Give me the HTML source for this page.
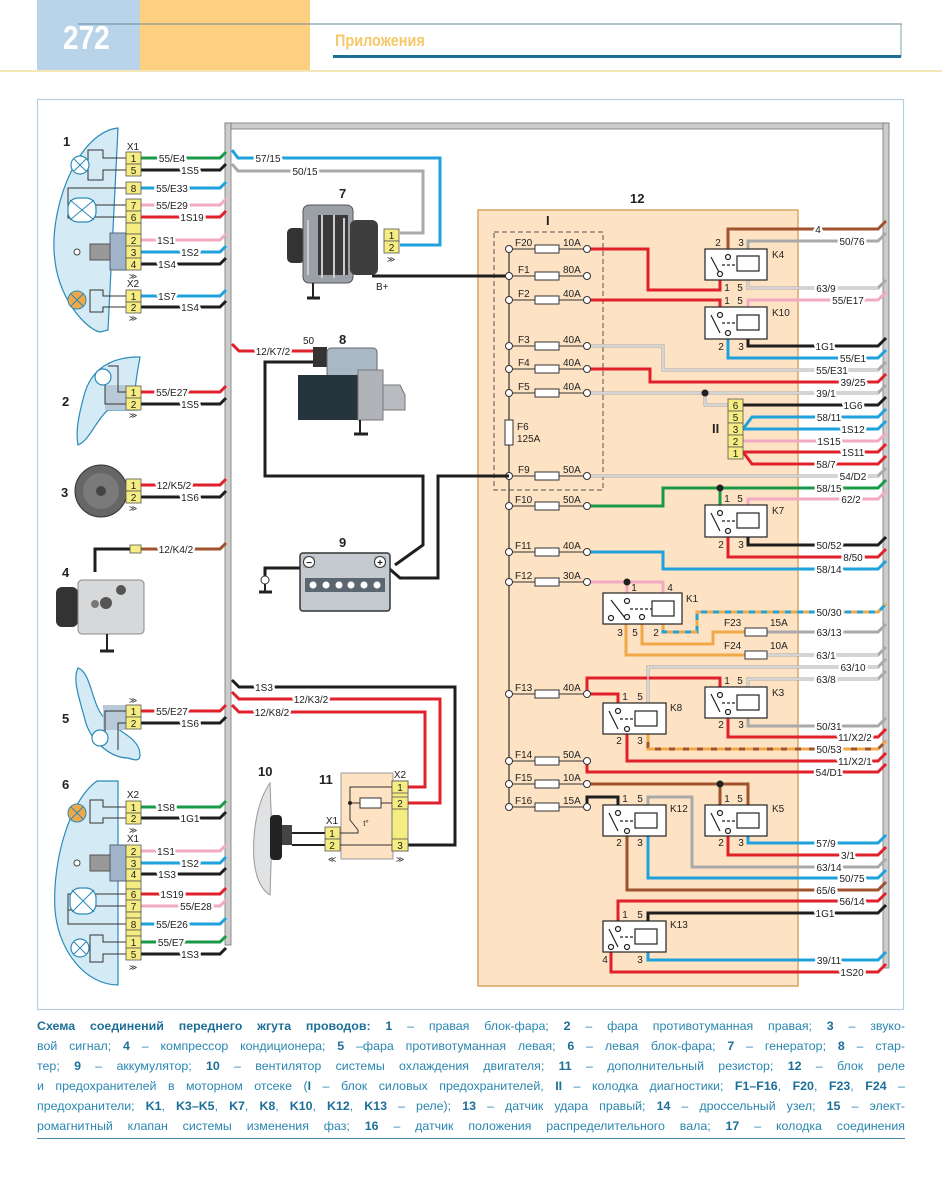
<!DOCTYPE html>
<html><head><meta charset="utf-8">
<style>
html,body{margin:0;padding:0;background:#fff;}
body{width:942px;height:1200px;position:relative;overflow:hidden;font-family:"Liberation Sans","DejaVu Sans",sans-serif;}
svg{position:absolute;left:0;top:0;}
.cap{position:absolute;left:37px;width:868px;font-size:12.4px;color:#2a86b0;line-height:20px;text-align:justify;text-align-last:justify;white-space:nowrap;font-family:"Liberation Sans","DejaVu Sans",sans-serif;}
.cap b{color:#1d6f98;}
</style></head><body>
<svg width="942" height="1200" viewBox="0 0 942 1200" font-family="Liberation Sans, DejaVu Sans, sans-serif">
<defs>
<style>
.w{fill:none;stroke-width:3;stroke-linejoin:miter}
.r{stroke:#e0202a}.b{stroke:#1ea2dc}.g{stroke:#1a9a48}.p{stroke:#f2a9c2}.k{stroke:#1e1e1e}.y{stroke:#a9a9a9}.n{stroke:#a0522d}.o{stroke:#f0a848}
.t{font-size:10px;fill:#222;paint-order:stroke;stroke:#fff;stroke-width:5px;stroke-linejoin:round}
.tb{font-size:10px;fill:#222}
.pn{font-size:10px;fill:#222;text-anchor:middle}
.num{font-size:13px;font-weight:bold;fill:#222}
.thin{fill:none;stroke:#333;stroke-width:1}
.cell{fill:#f6ed82;stroke:#555;stroke-width:0.8}
</style>
</defs>

<!-- header -->
<rect x="37" y="0" width="103" height="70" fill="#b9d3e8"/>
<rect x="140" y="0" width="170" height="70" fill="#fdd080"/>
<line x1="78" y1="24" x2="902" y2="24" stroke="#6a8a9a" stroke-width="1"/>
<line x1="901" y1="24" x2="901" y2="57" stroke="#7aa" stroke-width="1"/>
<text x="63" y="49" font-size="33" font-weight="bold" fill="#fff" transform="translate(63 0) scale(0.85 1) translate(-63 0)">272</text>
<text x="335" y="46" font-size="17" font-weight="bold" fill="#f6c86a" transform="translate(335 0) scale(0.85 1) translate(-335 0)">Приложения</text>
<rect x="333" y="55" width="568" height="3" fill="#1c6e92"/>
<rect x="0" y="70" width="942" height="2" fill="#f3e7b8"/>

<!-- frame -->
<rect x="37.5" y="99.5" width="866" height="910" fill="none" stroke="#b7cfe0" stroke-width="1.2"/>

<!-- block 12 -->
<rect x="478" y="210" width="320" height="776" fill="#fde3c4" stroke="#d9a466" stroke-width="1.5"/>
<text x="630" y="203" class="num">12</text>
<rect x="494" y="232" width="109" height="258" fill="none" stroke="#555" stroke-width="1" stroke-dasharray="5,3"/>
<text x="546" y="225" class="num" font-size="12">I</text>

<!-- trunk -->
<rect x="225" y="123" width="664" height="6" fill="#ccc" stroke="#777" stroke-width="0.8"/>
<rect x="225" y="123" width="6" height="822" fill="#ccc" stroke="#777" stroke-width="0.8"/>
<rect x="883" y="123" width="6" height="845" fill="#ccc" stroke="#777" stroke-width="0.8"/>

<!-- fuse bus -->
<line x1="509" y1="249" x2="509" y2="807" stroke="#333" stroke-width="1.2"/>
<rect x="505" y="420" width="8" height="25" fill="#fff" stroke="#333"/>
<text x="517" y="430" class="tb">F6</text><text x="517" y="442" class="tb">125A</text>

<!-- wires inside block 12 (right side) -->
<g class="w">
<path class="n" d="M728 249V229H878l8-8"/>
<path class="y" d="M748 249V241H878l8-8"/>
<path class="r" d="M587 249H648V290H720V280"/>
<path class="y" d="M748 280V288H878l8-8"/>
<path class="p" d="M748 307V300H878l8-8"/>
<path class="r" d="M587 300H720V307"/>
<path class="k" d="M748 339V346H878l8-8"/>
<path class="b" d="M728 339V358H878l8-8"/>
<path class="y" d="M587 346H663V370H878l8-8"/>
<path class="r" d="M587 369H650V382H878l8-8"/>
<path class="y" d="M587 393H878l8-8"/>
<path class="y" d="M705 393V405H728"/>
<path class="k" d="M743 405H878l8-8"/>
<path class="b" d="M743 429L752 417H878l8-8"/>
<path class="b" d="M743 429H878l8-8"/>
<path class="p" d="M743 441H878l8-8"/>
<path class="r" d="M743 452H878l8-8"/>
<path class="r" d="M743 452L752 464H878l8-8"/>
<path class="k" d="M509 276H372"/>
<path class="y" d="M587 476H878l8-8"/>
<path class="g" d="M587 506H663V488H878l8-8"/>
<path class="g" d="M720 488V505"/>
<path class="p" d="M748 505V499H878l8-8"/>
<path class="k" d="M748 537V545H878l8-8"/>
<path class="r" d="M728 537V557H878l8-8"/>
<path class="b" d="M587 552H663V569H878l8-8"/>
<path class="p" d="M587 582H663V593"/>
<path class="p" d="M627 582V593"/>
<path class="b" d="M663 624V632H697V612H878l8-8"/>
<path class="o" d="M663 624V632H697V612H878l8-8" stroke-dasharray="6,6"/>
<path class="o" d="M642 624V644H713V632H745"/>
<path class="y" d="M767 632H878l8-8"/>
<path class="o" d="M626 624V655H745"/>
<path class="y" d="M767 655H878l8-8"/>
<path class="y" d="M648 703V667H878l8-8"/>
<path class="y" d="M748 687V679H878l8-8"/>
<path class="r" d="M587 694V678H720V687"/>
<path class="r" d="M587 694H618V703"/>
<path class="y" d="M748 718V726H878l8-8"/>
<path class="r" d="M728 718V737H878l8-8"/>
<path class="n" d="M648 734V749H878l8-8"/>
<path class="o" d="M648 734V749H878l8-8" stroke-dasharray="8,6"/>
<path class="r" d="M627 734V761H878l8-8"/>
<path class="r" d="M587 761V772H878l8-8"/>
<path class="n" d="M587 784H748V805"/>
<path class="n" d="M720 784V805"/>
<path class="k" d="M587 807V797H618V805"/>
<path class="y" d="M648 805V797H692V867H878l8-8"/>
<path class="b" d="M748 836V843H878l8-8"/>
<path class="r" d="M728 836V855H878l8-8"/>
<path class="b" d="M648 836V878H878l8-8"/>
<path class="n" d="M627 836V890H878l8-8"/>
<path class="r" d="M618 921V901H878l8-8"/>
<path class="k" d="M648 921V913H878l8-8"/>
<path class="b" d="M648 952V960H878l8-8"/>
<path class="r" d="M611 952V972H878l8-8"/>
</g>
<g fill="#fff" stroke="#fff" stroke-width="1">
<path d="M748 280V288H878M587 346H663V370H878M587 393H878M705 393V405H728M587 476H878M767 655H878M648 703V667H878M748 687V679H878" fill="none"/>
</g>
<g fill="#222"><circle cx="705" cy="393" r="3.5"/><circle cx="720" cy="488" r="3.5"/><circle cx="627" cy="582" r="3.5"/><circle cx="720" cy="784" r="3.5"/></g>

<!-- fuses -->
<g stroke="#333" stroke-width="1" fill="#fff">
<path d="M509 249H587M509 276H587M509 300H587M509 346H587M509 369H587M509 393H587M509 476H587M509 506H587M509 552H587M509 582H587M509 694H587M509 761H587M509 784H587M509 807H587" fill="none"/>
<rect x="535" y="245" width="24" height="8"/><rect x="535" y="272" width="24" height="8"/><rect x="535" y="296" width="24" height="8"/>
<rect x="535" y="342" width="24" height="8"/><rect x="535" y="365" width="24" height="8"/><rect x="535" y="389" width="24" height="8"/>
<rect x="535" y="472" width="24" height="8"/><rect x="535" y="502" width="24" height="8"/><rect x="535" y="548" width="24" height="8"/>
<rect x="535" y="578" width="24" height="8"/><rect x="535" y="690" width="24" height="8"/><rect x="535" y="757" width="24" height="8"/>
<rect x="535" y="780" width="24" height="8"/><rect x="535" y="803" width="24" height="8"/>
<rect x="745" y="628" width="22" height="8"/><rect x="745" y="651" width="22" height="8"/>
<circle cx="509" cy="249" r="3.5"/><circle cx="509" cy="276" r="3.5"/><circle cx="509" cy="300" r="3.5"/><circle cx="509" cy="346" r="3.5"/><circle cx="509" cy="369" r="3.5"/><circle cx="509" cy="393" r="3.5"/><circle cx="509" cy="476" r="3.5"/><circle cx="509" cy="506" r="3.5"/><circle cx="509" cy="552" r="3.5"/><circle cx="509" cy="582" r="3.5"/><circle cx="509" cy="694" r="3.5"/><circle cx="509" cy="761" r="3.5"/><circle cx="509" cy="784" r="3.5"/><circle cx="509" cy="807" r="3.5"/>
<circle cx="587" cy="249" r="3.5"/><circle cx="587" cy="276" r="3.5"/><circle cx="587" cy="300" r="3.5"/><circle cx="587" cy="346" r="3.5"/><circle cx="587" cy="369" r="3.5"/><circle cx="587" cy="393" r="3.5"/><circle cx="587" cy="476" r="3.5"/><circle cx="587" cy="506" r="3.5"/><circle cx="587" cy="552" r="3.5"/><circle cx="587" cy="582" r="3.5"/><circle cx="587" cy="694" r="3.5"/><circle cx="587" cy="761" r="3.5"/><circle cx="587" cy="784" r="3.5"/><circle cx="587" cy="807" r="3.5"/>
</g>
<g class="tb" font-size="9.5">
<text x="515" y="246">F20</text><text x="563" y="246">10A</text>
<text x="518" y="273">F1</text><text x="563" y="273">80A</text>
<text x="518" y="297">F2</text><text x="563" y="297">40A</text>
<text x="518" y="343">F3</text><text x="563" y="343">40A</text>
<text x="518" y="366">F4</text><text x="563" y="366">40A</text>
<text x="518" y="390">F5</text><text x="563" y="390">40A</text>
<text x="518" y="473">F9</text><text x="563" y="473">50A</text>
<text x="515" y="503">F10</text><text x="563" y="503">50A</text>
<text x="515" y="549">F11</text><text x="563" y="549">40A</text>
<text x="515" y="579">F12</text><text x="563" y="579">30A</text>
<text x="515" y="691">F13</text><text x="563" y="691">40A</text>
<text x="515" y="758">F14</text><text x="563" y="758">50A</text>
<text x="515" y="781">F15</text><text x="563" y="781">10A</text>
<text x="515" y="804">F16</text><text x="563" y="804">15A</text>
<text x="724" y="626">F23</text><text x="770" y="626">15A</text>
<text x="724" y="649">F24</text><text x="770" y="649">10A</text>
</g>

<!-- relays -->
<g id="rel">
<g stroke="#222" stroke-width="1.2" fill="#fff">
<rect x="705" y="249" width="62" height="31"/><rect x="705" y="307" width="62" height="32"/>
<rect x="705" y="505" width="62" height="32"/><rect x="603" y="593" width="79" height="31"/>
<rect x="705" y="687" width="62" height="31"/><rect x="603" y="703" width="63" height="31"/>
<rect x="603" y="805" width="63" height="31"/><rect x="705" y="805" width="62" height="31"/>
<rect x="603" y="921" width="63" height="31"/>
</g>
<g stroke="#222" stroke-width="1.2" fill="none">
<!-- coils -->
<rect x="737" y="256" width="22" height="15"/><rect x="737" y="315" width="22" height="15"/>
<rect x="737" y="513" width="22" height="15"/><rect x="652" y="601" width="22" height="15"/>
<rect x="737" y="695" width="22" height="15"/><rect x="635" y="711" width="22" height="15"/>
<rect x="635" y="813" width="22" height="15"/><rect x="737" y="813" width="22" height="15"/>
<rect x="635" y="929" width="22" height="15"/>
<!-- switches -->
<path d="M711 257L720 274M711 315L720 333M711 513L720 531M611 600L625 618M711 694L720 712M609 711L618 729M609 813L618 831M711 813L720 831M609 929L618 947"/>
<path d="M722 265H737M722 323H737M722 521H737M630 609H652M722 703H737M620 719H635M620 821H635M722 821H737M620 937H635" stroke-dasharray="3,2"/>
<circle cx="728" cy="257" r="2.5" fill="#fff"/><circle cx="720" cy="274" r="2.5" fill="#fff"/>
<circle cx="720" cy="315" r="2.5" fill="#fff"/><circle cx="728" cy="333" r="2.5" fill="#fff"/>
<circle cx="720" cy="513" r="2.5" fill="#fff"/><circle cx="728" cy="531" r="2.5" fill="#fff"/>
<circle cx="627" cy="601" r="2.5" fill="#fff"/><circle cx="611" cy="618" r="2.5" fill="#fff"/><circle cx="627" cy="617" r="2.5" fill="#fff"/><circle cx="642" cy="617" r="2.5" fill="#fff"/>
<circle cx="720" cy="695" r="2.5" fill="#fff"/><circle cx="728" cy="712" r="2.5" fill="#fff"/>
<circle cx="618" cy="711" r="2.5" fill="#fff"/><circle cx="627" cy="729" r="2.5" fill="#fff"/>
<circle cx="618" cy="813" r="2.5" fill="#fff"/><circle cx="627" cy="831" r="2.5" fill="#fff"/>
<circle cx="720" cy="813" r="2.5" fill="#fff"/><circle cx="728" cy="831" r="2.5" fill="#fff"/>
<circle cx="618" cy="929" r="2.5" fill="#fff"/><circle cx="611" cy="947" r="2.5" fill="#fff"/><circle cx="627" cy="947" r="2.5" fill="#fff"/>
</g>
<g class="tb" font-size="10.5">
<text x="772" y="258">K4</text><text x="772" y="316">K10</text><text x="772" y="514">K7</text><text x="686" y="602">K1</text>
<text x="772" y="696">K3</text><text x="670" y="711">K8</text><text x="670" y="812">K12</text><text x="772" y="812">K5</text><text x="670" y="928">K13</text>
</g>
<g class="pn">
<text x="718" y="246">2</text><text x="741" y="246">3</text><text x="727" y="291">1</text><text x="740" y="291">5</text>
<text x="727" y="304">1</text><text x="740" y="304">5</text><text x="721" y="350">2</text><text x="741" y="350">3</text>
<text x="727" y="502">1</text><text x="740" y="502">5</text><text x="721" y="548">2</text><text x="741" y="548">3</text>
<text x="634" y="591">1</text><text x="670" y="591">4</text><text x="620" y="636">3</text><text x="635" y="636">5</text><text x="656" y="636">2</text>
<text x="727" y="684">1</text><text x="740" y="684">5</text><text x="721" y="728">2</text><text x="741" y="728">3</text>
<text x="625" y="700">1</text><text x="640" y="700">5</text><text x="619" y="744">2</text><text x="640" y="744">3</text>
<text x="625" y="802">1</text><text x="640" y="802">5</text><text x="619" y="846">2</text><text x="640" y="846">3</text>
<text x="727" y="802">1</text><text x="740" y="802">5</text><text x="721" y="846">2</text><text x="741" y="846">3</text>
<text x="625" y="918">1</text><text x="640" y="918">5</text><text x="605" y="963">4</text><text x="640" y="963">3</text>
</g>
</g>

<!-- connector II -->
<g><rect x="728" y="399" width="15" height="12" class="cell"/><rect x="728" y="411" width="15" height="12" class="cell"/><rect x="728" y="423" width="15" height="12" class="cell"/><rect x="728" y="435" width="15" height="12" class="cell"/><rect x="728" y="447" width="15" height="12" class="cell"/></g>
<g class="pn"><text x="735.5" y="409">6</text><text x="735.5" y="421">5</text><text x="735.5" y="433">3</text><text x="735.5" y="445">2</text><text x="735.5" y="457">1</text></g>
<text x="712" y="433" class="num" font-size="12">II</text>

<!-- right labels -->
<g class="t" text-anchor="middle">
<text x="818" y="233">4</text><text x="852" y="245">50/76</text><text x="826" y="292">63/9</text><text x="848" y="304">55/E17</text>
<text x="825" y="350">1G1</text><text x="853" y="362">55/E1</text><text x="832" y="374">55/E31</text><text x="853" y="386">39/25</text>
<text x="826" y="397">39/1</text><text x="853" y="409">1G6</text><text x="829" y="421">58/11</text><text x="853" y="433">1S12</text>
<text x="829" y="445">1S15</text><text x="853" y="456">1S11</text><text x="826" y="468">58/7</text><text x="853" y="480">54/D2</text>
<text x="829" y="492">58/15</text><text x="851" y="503">62/2</text><text x="829" y="549">50/52</text><text x="853" y="561">8/50</text>
<text x="829" y="573">58/14</text><text x="829" y="616">50/30</text><text x="829" y="636">63/13</text><text x="826" y="659">63/1</text>
<text x="853" y="671">63/10</text><text x="826" y="683">63/8</text><text x="829" y="730">50/31</text><text x="855" y="741">11/X2/2</text>
<text x="829" y="753">50/53</text><text x="855" y="765">11/X2/1</text><text x="829" y="776">54/D1</text><text x="826" y="847">57/9</text>
<text x="848" y="859">3/1</text><text x="829" y="871">63/14</text><text x="852" y="882">50/75</text><text x="826" y="894">65/6</text>
<text x="852" y="905">56/14</text><text x="825" y="917">1G1</text><text x="829" y="964">39/11</text><text x="852" y="976">1S20</text>
</g>

<!-- left wires -->
<g class="w">
<path class="g" d="M141 158H220l6-6"/><path class="k" d="M141 170H220l6-6"/>
<path class="b" d="M141 188H220l6-6"/><path class="p" d="M141 205H220l6-6"/><path class="r" d="M141 217H220l6-6"/>
<path class="p" d="M141 240H220l6-6"/><path class="b" d="M141 252H220l6-6"/><path class="k" d="M141 264H220l6-6"/>
<path class="b" d="M141 296H220l6-6"/><path class="k" d="M141 307H220l6-6"/>
<path class="r" d="M141 392H220l6-6"/><path class="k" d="M141 404H220l6-6"/>
<path class="r" d="M141 485H220l6-6"/><path class="k" d="M141 497H220l6-6"/>
<path class="n" d="M141 549H220l6-6"/>
<path class="k" d="M95 572V549H130"/>
<path class="r" d="M141 711H220l6-6"/><path class="k" d="M141 723H220l6-6"/>
<path class="g" d="M141 807H220l6-6"/><path class="k" d="M141 818H220l6-6"/>
<path class="p" d="M141 851H220l6-6"/><path class="b" d="M141 863H220l6-6"/><path class="k" d="M141 874H220l6-6"/>
<path class="r" d="M141 894H220l6-6"/><path class="p" d="M141 906H220l6-6"/><path class="b" d="M141 924H220l6-6"/>
<path class="g" d="M141 942H220l6-6"/><path class="k" d="M141 954H220l6-6"/>
<!-- inside harness -->
<path class="b" d="M232 150l6 8H440V245H400"/>
<path class="y" d="M232 164l6 7H423V233H400"/>
<path class="r" d="M232 344l7 7H313"/>
<path class="k" d="M313 362H265V476H423V545L395 565"/>
<path class="k" d="M509 476H438V578H400L385 565"/>
<path class="k" d="M300 568H265V578"/>
<path class="k" d="M232 680l7 7H455V845H408"/>
<path class="r" d="M232 692l7 7H440V803H408"/>
<path class="r" d="M232 705l7 7H425V787H408"/>
</g>
<g class="t" text-anchor="middle">
<text x="172" y="162">55/E4</text><text x="190" y="174">1S5</text><text x="172" y="192">55/E33</text><text x="172" y="209">55/E29</text><text x="192" y="221">1S19</text>
<text x="166" y="244">1S1</text><text x="190" y="256">1S2</text><text x="167" y="268">1S4</text><text x="167" y="300">1S7</text><text x="190" y="311">1S4</text>
<text x="172" y="396">55/E27</text><text x="190" y="408">1S5</text><text x="174" y="489">12/K5/2</text><text x="190" y="501">1S6</text>
<text x="176" y="553">12/K4/2</text><text x="172" y="715">55/E27</text><text x="190" y="727">1S6</text>
<text x="166" y="811">1S8</text><text x="190" y="822">1G1</text><text x="166" y="855">1S1</text><text x="190" y="867">1S2</text><text x="167" y="878">1S3</text>
<text x="172" y="898">1S19</text><text x="196" y="910">55/E28</text><text x="172" y="928">55/E26</text><text x="171" y="946">55/E7</text><text x="190" y="958">1S3</text>
<text x="268" y="162">57/15</text><text x="305" y="175">50/15</text><text x="273" y="355">12/K7/2</text>
<text x="264" y="691">1S3</text><text x="311" y="703">12/K3/2</text><text x="272" y="716">12/K8/2</text>
</g>
<rect x="130" y="545" width="11" height="8" class="cell"/>

<!-- headlamp 1 -->
<path d="M118 128C80 132 52 200 54 250C56 300 88 330 100 332L108 330Z" fill="#d4ebf6" stroke="#2a8ab8" stroke-width="1.2"/>
<path d="M110 233H126V270H110Z" fill="#9fb4c8" stroke="#567"/>
<rect x="90" y="244" width="20" height="16" fill="#999" stroke="#555"/>
<circle cx="77" cy="252" r="3" fill="#fff" stroke="#444"/>
<g class="thin" stroke-width="1.2">
<path d="M126 158H103V150H88V180H103V170H126"/>
<path d="M126 188H68V218H90M126 205H95M126 217H94"/>
<path d="M126 296H103V290H90V312H103V307H126"/>
</g>
<g fill="#fff" stroke="#2a8ab8" stroke-width="1.2">
<circle cx="80" cy="165" r="9"/><rect x="68" y="198" width="28" height="24" rx="10"/>
</g>
<circle cx="77" cy="300" r="9" fill="#f0a848" stroke="#2a8ab8"/>
<g stroke="#2a8ab8" stroke-width="1"><path d="M74 159l12 12M86 159l-12 12M70 200l24 20M94 200l-24 20M71 294l12 12M83 294l-12 12"/></g>
<g><rect x="126" y="152" width="15" height="12" class="cell"/><rect x="126" y="164" width="15" height="12" class="cell"/><rect x="126" y="182" width="15" height="12" class="cell"/><rect x="126" y="199" width="15" height="12" class="cell"/><rect x="126" y="211" width="15" height="12" class="cell"/><rect x="126" y="223" width="15" height="11" class="cell"/><rect x="126" y="234" width="15" height="12" class="cell"/><rect x="126" y="246" width="15" height="12" class="cell"/><rect x="126" y="258" width="15" height="12" class="cell"/>
<rect x="126" y="290" width="15" height="12" class="cell"/><rect x="126" y="302" width="15" height="11" class="cell"/></g>
<g class="pn"><text x="133.5" y="162">1</text><text x="133.5" y="174">5</text><text x="133.5" y="192">8</text><text x="133.5" y="209">7</text><text x="133.5" y="221">6</text><text x="133.5" y="244">2</text><text x="133.5" y="256">3</text><text x="133.5" y="268">4</text><text x="133.5" y="300">1</text><text x="133.5" y="311">2</text>
<text x="133" y="150">X1</text><text x="133" y="287">X2</text><text x="133" y="279" font-size="8">≫</text><text x="133" y="321" font-size="8">≫</text></g>
<text x="63" y="146" class="num">1</text>

<!-- fog lamp 2 -->
<path d="M138 357C110 357 92 370 85 392C80 410 75 430 78 445C90 440 96 420 108 410L138 410L138 400C132 395 138 370 140 357Z" fill="#d4ebf6" stroke="#2a8ab8" stroke-width="1.2"/>
<rect x="105" y="385" width="21" height="25" fill="#b8cad8"/>
<path class="thin" d="M126 392H118V366H108M126 404H105V385" stroke-width="1.2"/>
<circle cx="103" cy="377" r="8" fill="#fff" stroke="#2a8ab8" stroke-width="1.2"/>
<rect x="126" y="386" width="15" height="12" class="cell"/><rect x="126" y="398" width="15" height="12" class="cell"/>
<g class="pn"><text x="133.5" y="396">1</text><text x="133.5" y="408">2</text><text x="133" y="418" font-size="8">≫</text></g>
<text x="62" y="406" class="num">2</text>

<!-- horn 3 -->
<circle cx="101" cy="491" r="26" fill="#666" stroke="#333"/>
<circle cx="101" cy="491" r="18" fill="#7a7a7a"/>
<circle cx="101" cy="491" r="5" fill="#444"/>
<rect x="126" y="479" width="15" height="12" class="cell"/><rect x="126" y="491" width="15" height="12" class="cell"/>
<g class="pn"><text x="133.5" y="489">1</text><text x="133.5" y="501">2</text><text x="133" y="511" font-size="8">≫</text></g>
<text x="61" y="497" class="num">3</text>

<!-- compressor 4 -->
<rect x="56" y="587" width="22" height="40" rx="6" fill="#333"/>
<rect x="78" y="580" width="66" height="54" rx="4" fill="#d6d8da" stroke="#888"/>
<circle cx="106" cy="603" r="6" fill="#555"/><circle cx="121" cy="590" r="5" fill="#555"/><circle cx="95" cy="604" r="4" fill="#777"/>
<line x1="107" y1="634" x2="107" y2="650" stroke="#222" stroke-width="2"/><line x1="100" y1="651" x2="114" y2="651" stroke="#222" stroke-width="3"/>
<text x="62" y="577" class="num">4</text>

<!-- fog lamp 5 -->
<path d="M78 668C90 672 92 700 100 712C110 730 140 735 140 755C140 762 134 760 128 758C110 758 90 740 85 720C80 700 72 680 78 668Z" fill="#d4ebf6" stroke="#2a8ab8" stroke-width="1.2"/>
<rect x="103" y="705" width="23" height="25" fill="#b8cad8"/>
<path class="thin" d="M126 711H105V745M126 723H118V750" stroke-width="1.2"/>
<circle cx="100" cy="738" r="8" fill="#fff" stroke="#2a8ab8" stroke-width="1.2"/>
<rect x="126" y="705" width="15" height="12" class="cell"/><rect x="126" y="717" width="15" height="12" class="cell"/>
<g class="pn"><text x="133.5" y="715">1</text><text x="133.5" y="727">2</text><text x="133" y="703" font-size="8">≫</text></g>
<text x="62" y="723" class="num">5</text>

<!-- headlamp 6 -->
<path d="M97 781C70 800 52 860 55 910C58 950 85 985 118 985L118 781Z" fill="#d4ebf6" stroke="#2a8ab8" stroke-width="1.2"/>
<rect x="110" y="845" width="16" height="36" fill="#9fb4c8" stroke="#567"/>
<rect x="90" y="855" width="20" height="16" fill="#999" stroke="#555"/>
<circle cx="77" cy="863" r="3" fill="#fff" stroke="#444"/>
<g class="thin" stroke-width="1.2">
<path d="M126 807H103V800H90V823H103V818H126"/>
<path d="M126 894H68V910H90M126 906H95M126 924H68V910"/>
<path d="M126 942H103V935H90V962H103V954H126"/>
</g>
<circle cx="77" cy="813" r="9" fill="#f0a848" stroke="#2a8ab8"/>
<rect x="70" y="888" width="26" height="26" rx="10" fill="#fff" stroke="#2a8ab8" stroke-width="1.2"/>
<circle cx="80" cy="948" r="9" fill="#fff" stroke="#2a8ab8" stroke-width="1.2"/>
<g stroke="#2a8ab8" stroke-width="1"><path d="M71 807l12 12M83 807l-12 12M72 890l22 22M94 890l-22 22M74 942l12 12M86 942l-12 12"/></g>
<g><rect x="126" y="801" width="15" height="12" class="cell"/><rect x="126" y="813" width="15" height="11" class="cell"/>
<rect x="126" y="845" width="15" height="12" class="cell"/><rect x="126" y="857" width="15" height="12" class="cell"/><rect x="126" y="869" width="15" height="12" class="cell"/><rect x="126" y="881" width="15" height="8" class="cell"/><rect x="126" y="889" width="15" height="11" class="cell"/><rect x="126" y="900" width="15" height="12" class="cell"/><rect x="126" y="912" width="15" height="6" class="cell"/><rect x="126" y="918" width="15" height="12" class="cell"/><rect x="126" y="930" width="15" height="6" class="cell"/><rect x="126" y="936" width="15" height="12" class="cell"/><rect x="126" y="948" width="15" height="12" class="cell"/></g>
<g class="pn"><text x="133.5" y="811">1</text><text x="133.5" y="822">2</text><text x="133.5" y="855">2</text><text x="133.5" y="867">3</text><text x="133.5" y="878">4</text><text x="133.5" y="898">6</text><text x="133.5" y="910">7</text><text x="133.5" y="928">8</text><text x="133.5" y="946">1</text><text x="133.5" y="958">5</text>
<text x="133" y="798">X2</text><text x="133" y="842">X1</text><text x="133" y="833" font-size="8">≫</text><text x="133" y="970" font-size="8">≫</text></g>
<text x="62" y="789" class="num">6</text>

<!-- alternator 7 -->
<rect x="287" y="228" width="18" height="35" rx="5" fill="#333"/>
<rect x="303" y="205" width="50" height="78" rx="6" fill="#9aa0a6" stroke="#555"/>
<rect x="318" y="215" width="30" height="60" fill="#3a3a3a"/>
<rect x="350" y="220" width="28" height="55" rx="6" fill="#3e3e3e"/>
<g stroke="#ccc" stroke-width="2"><path d="M308 220V275M322 215V278M334 215V278M344 218V275"/></g>
<line x1="313" y1="283" x2="313" y2="297" stroke="#222" stroke-width="2"/><line x1="307" y1="298" x2="320" y2="298" stroke="#222" stroke-width="3"/>
<rect x="384" y="229" width="15" height="12" class="cell"/><rect x="384" y="241" width="15" height="12" class="cell"/>
<g class="pn"><text x="391.5" y="239">1</text><text x="391.5" y="251">2</text><text x="391" y="262" font-size="8">≫</text></g>
<text x="376" y="290" class="tb">B+</text>
<text x="339" y="198" class="num">7</text>

<!-- starter 8 -->
<rect x="313" y="347" width="14" height="20" fill="#333"/>
<rect x="327" y="348" width="50" height="30" rx="4" fill="#a8b8c4" stroke="#667"/>
<rect x="298" y="375" width="60" height="45" fill="#26343e"/>
<rect x="358" y="370" width="25" height="50" fill="#b0b4b8" stroke="#777"/>
<path d="M383 385H400L405 395V410H383Z" fill="#b8bcc0" stroke="#777"/>
<line x1="360" y1="420" x2="360" y2="433" stroke="#222" stroke-width="2"/><line x1="354" y1="434" x2="368" y2="434" stroke="#222" stroke-width="3"/>
<text x="303" y="344" class="tb">50</text>
<text x="339" y="344" class="num">8</text>

<!-- battery 9 -->
<rect x="300" y="553" width="90" height="58" rx="3" fill="#c4cad0" stroke="#333" stroke-width="1.5"/>
<rect x="303" y="556" width="12" height="12" fill="#b0b8c0"/><circle cx="309" cy="562" r="5.5" fill="#fff" stroke="#333"/><text x="309" y="566" class="pn" font-weight="bold">−</text>
<rect x="374" y="556" width="12" height="12" fill="#b0b8c0"/><circle cx="380" cy="562" r="5.5" fill="#fff" stroke="#333"/><text x="380" y="566" class="pn" font-weight="bold">+</text>
<rect x="305" y="578" width="80" height="14" fill="#5b6670"/>
<g fill="#fff"><circle cx="313" cy="585" r="3.5"/><circle cx="326" cy="585" r="3.5"/><circle cx="339" cy="585" r="3.5"/><circle cx="351" cy="585" r="3.5"/><circle cx="364" cy="585" r="3.5"/><circle cx="377" cy="585" r="3.5"/></g>
<circle cx="265" cy="580" r="4" fill="#fff" stroke="#333"/>
<line x1="265" y1="584" x2="265" y2="592" stroke="#222" stroke-width="2"/><line x1="259" y1="592" x2="272" y2="592" stroke="#222" stroke-width="3"/>
<text x="339" y="547" class="num">9</text>

<!-- fan 10 -->
<path d="M270 783C258 800 252 830 254 860C256 880 262 890 270 895L272 835Z" fill="#e0e2e4" stroke="#999"/>
<rect x="270" y="815" width="12" height="45" rx="4" fill="#222"/>
<rect x="282" y="825" width="10" height="20" fill="#444"/>
<path d="M292 833H325M292 845H325" stroke="#222" stroke-width="2"/>
<text x="258" y="776" class="num">10</text>

<!-- resistor block 11 -->
<rect x="341" y="773" width="52" height="86" fill="#fde3c4" stroke="#999"/>
<rect x="392" y="781" width="16" height="70" fill="#f6ed82" stroke="#777"/>
<rect x="392" y="781" width="16" height="12" class="cell"/><rect x="392" y="797" width="16" height="12" class="cell"/><rect x="392" y="839" width="16" height="12" class="cell"/>
<rect x="325" y="827" width="15" height="12" class="cell"/><rect x="325" y="839" width="15" height="12" class="cell"/>
<g class="thin" stroke-width="1.2"><path d="M392 787H350V803H360M381 803H392M350 803V820L358 830V833H340M340 845H392"/></g>
<rect x="360" y="798" width="21" height="10" fill="#fff" stroke="#333"/>
<circle cx="350" cy="803" r="2" fill="#222"/>
<g class="pn"><text x="400" y="791">1</text><text x="400" y="807">2</text><text x="400" y="849">3</text><text x="332" y="837">1</text><text x="332" y="849">2</text><text x="400" y="778">X2</text><text x="332" y="824">X1</text><text x="366" y="826" font-size="8">t°</text><text x="332" y="862" font-size="8">≪</text><text x="400" y="862" font-size="8">≫</text></g>
<text x="319" y="784" class="num">11</text>
</svg>

<div class="cap" style="top:1016px"><b>Схема соединений переднего жгута проводов: 1</b> – правая блок-фара; <b>2</b> – фара противотуманная правая; <b>3</b> – звуко-</div>
<div class="cap" style="top:1036px">вой сигнал; <b>4</b> – компрессор кондиционера; <b>5</b> –фара противотуманная левая; <b>6</b> – левая блок-фара; <b>7</b> – генератор; <b>8</b> – стар-</div>
<div class="cap" style="top:1056px">тер; <b>9</b> – аккумулятор; <b>10</b> – вентилятор системы охлаждения двигателя; <b>11</b> – дополнительный резистор; <b>12</b> – блок реле</div>
<div class="cap" style="top:1076px">и предохранителей в моторном отсеке (<b>I</b> – блок силовых предохранителей, <b>II</b> – колодка диагностики; <b>F1–F16</b>, <b>F20</b>, <b>F23</b>, <b>F24</b> –</div>
<div class="cap" style="top:1096px">предохранители; <b>K1</b>, <b>K3–K5</b>, <b>K7</b>, <b>K8</b>, <b>K10</b>, <b>K12</b>, <b>K13</b> – реле); <b>13</b> – датчик удара правый; <b>14</b> – дроссельный узел; <b>15</b> – элект-</div>
<div class="cap" style="top:1116px">ромагнитный клапан системы изменения фаз; <b>16</b> – датчик положения распределительного вала; <b>17</b> – колодка соединения</div>
<div style="position:absolute;left:37px;top:1138px;width:868px;height:1px;background:#4a8aa8"></div>
</body></html>
